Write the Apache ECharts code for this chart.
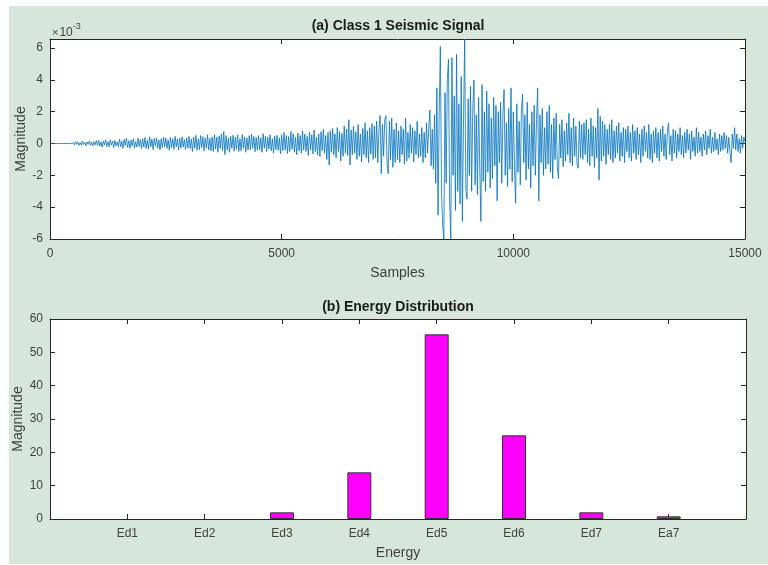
<!DOCTYPE html>
<html>
  <head>
    <meta charset="utf-8">
    <title>Seismic Signal</title>
    <script src="https://cdn.jsdelivr.net/npm/echarts@6/dist/echarts.min.js"></script>
    <style>
      html, body { margin: 0; padding: 0; background: #fff; }
      #chart { width: 768px; height: 565px; }
    </style>
  </head>
  <body>
    <div id="chart"></div>
  </body>
  <script>
    // (a) seismic signal, one value every 25 samples, in units of 1e-3
    var sampleStep = 25;
    var signal = [
      0,0,0,0,0,0,0,0,0,0,0,0,0,0,0,0,0,0,0,0,
      0.05,-0.08,0.12,-0.05,0.1,-0.12,0.06,-0.1,0.15,-0.06,0.08,-0.14,0.1,-0.05,0.16,-0.1,0.07,-0.15,0.12,-0.08,
      0.18,-0.12,0.2,-0.16,0.1,-0.22,0.15,-0.08,0.24,-0.18,0.12,-0.2,0.22,-0.1,0.16,-0.25,0.2,-0.14,0.1,-0.2,
      0.28,-0.2,0.15,-0.3,0.26,-0.12,0.32,-0.25,0.18,-0.3,0.22,-0.15,0.3,-0.28,0.12,-0.22,0.34,-0.18,0.25,-0.32,
      0.3,-0.22,0.38,-0.3,0.2,-0.35,0.42,-0.2,0.28,-0.38,0.32,-0.15,0.36,-0.3,0.22,-0.4,0.3,-0.26,0.4,-0.2,
      0.35,-0.3,0.22,-0.42,0.38,-0.25,0.3,-0.36,0.45,-0.2,0.28,-0.4,0.33,-0.3,0.42,-0.22,0.25,-0.38,0.36,-0.28,
      0.45,-0.32,0.28,-0.5,0.4,-0.3,0.52,-0.42,0.3,-0.38,0.5,-0.25,0.44,-0.48,0.35,-0.3,0.55,-0.4,0.32,-0.45,
      0.42,-0.5,0.55,-0.35,0.4,-0.55,0.48,-0.3,0.6,-0.45,0.75,-0.7,0.5,-0.4,0.35,-0.55,0.45,-0.3,0.52,-0.48,
      0.4,-0.35,0.55,-0.5,0.3,-0.45,0.58,-0.3,0.42,-0.55,0.35,-0.4,0.5,-0.38,0.6,-0.3,0.45,-0.52,0.38,-0.42,
      0.5,-0.4,0.35,-0.55,0.62,-0.3,0.45,-0.5,0.4,-0.35,0.55,-0.45,0.3,-0.6,0.48,-0.38,0.52,-0.42,0.36,-0.65,
      0.55,-0.45,0.7,-0.4,0.5,-0.62,0.45,-0.5,0.75,-0.35,0.6,-0.55,0.4,-0.7,0.65,-0.45,0.5,-0.6,0.8,-0.4,
      0.6,-0.5,0.45,-0.75,0.7,-0.4,0.55,-0.65,0.85,-0.5,0.4,-0.7,0.6,-0.8,0.75,-0.45,0.9,-0.6,0.5,-1.0,
      0.7,-1.35,0.8,-0.55,0.95,-0.7,0.6,-0.9,1.0,-0.5,0.75,-1.1,0.65,-0.8,1.1,-0.6,0.9,-0.75,1.5,-1.35,
      0.85,-0.7,1.1,-0.6,0.75,-1.0,1.2,-0.8,0.6,-1.15,0.95,-0.7,1.3,-0.9,0.8,-1.2,1.0,-0.65,1.25,-1.0,
      1.1,-0.9,1.4,-1.2,0.9,1.76,-1.9,1.2,-0.8,1.5,1.75,-1.3,-1.9,1.4,-1.0,1.6,-1.5,0.9,-1.2,1.3,
      -1.0,0.8,-1.2,1.1,-0.7,0.9,-1.3,1.6,-1.1,0.7,-0.9,1.2,-0.6,1.0,-1.15,0.8,-0.7,1.4,-0.9,0.6,
      -0.8,1.0,-1.2,0.7,-0.9,1.3,-0.6,1.0,2.1,-1.4,0.9,-1.6,1.8,-2.5,3.5,-4.5,2.0,6.1,-3.0,-5.2,
      -6.0,3.2,-2.5,4.0,5.3,-3.5,-6.0,5.4,-2.0,3.0,-4.2,5.6,-3.0,2.5,-3.8,4.2,-4.9,1.5,6.57,-2.8,
      -3.5,2.8,-2.0,3.6,-3.0,2.2,4.0,-2.6,1.8,-3.2,2.9,-1.5,-4.9,3.7,-2.4,2.0,-3.0,3.3,-1.8,2.5,
      -2.8,1.6,-2.2,2.9,-1.4,2.4,-3.6,2.0,-1.2,2.6,-2.5,1.8,3.4,-2.0,1.3,-2.7,2.2,-1.6,3.5,-2.4,
      2.0,-1.5,-3.75,2.5,-1.8,1.4,-2.6,2.2,3.1,-1.2,1.8,-2.3,2.6,-1.6,1.2,-2.8,2.0,-1.4,2.4,-2.0,
      1.5,3.5,-3.6,1.8,-1.2,2.2,-2.0,1.0,-1.6,2.0,-1.3,2.4,-1.8,1.2,-2.2,1.6,-1.0,1.9,-1.5,-2.2,
      1.2,-0.9,1.5,-1.45,0.8,-1.1,1.3,-0.7,1.9,-1.2,1.0,-1.4,1.6,-0.8,1.1,-1.3,-1.55,1.4,-0.9,1.2,
      -1.0,1.3,-0.7,1.5,-1.2,0.9,-1.4,1.6,-0.8,1.1,-1.5,1.0,-0.9,2.2,-2.3,1.7,-1.1,1.4,-0.8,1.2,
      -1.3,0.9,-0.7,1.2,-1.0,1.5,-1.2,0.8,-0.9,1.1,-0.6,1.3,-1.1,0.7,-0.8,1.0,-1.2,0.9,-0.5,1.1,
      -0.9,0.7,-1.1,1.2,-0.6,0.8,-1.0,1.0,-0.7,0.6,-1.2,0.9,-0.8,1.1,-0.5,0.7,-0.9,1.2,-1.0,0.6,
      -1.2,0.8,-0.6,1.0,-0.9,0.7,-1.1,0.9,-0.5,1.1,-0.8,0.6,-1.0,0.8,1.3,-0.7,0.5,-1.1,0.9,-0.6,
      0.8,-0.9,0.6,-0.5,1.0,-0.7,0.5,-0.9,0.7,-0.6,0.9,-0.4,0.6,-1.0,0.8,-0.5,0.4,-0.8,1.0,-0.6,
      0.7,-0.5,0.4,-0.8,0.6,-0.4,0.8,-0.7,0.5,-0.3,0.9,-0.6,0.4,-0.5,0.7,-0.4,0.3,-0.7,0.6,-0.5,
      0.5,-0.4,0.7,-0.3,0.5,-0.6,0.4,-0.5,-1.2,0.6,-0.3,1.0,-0.4,0.6,-0.5,0.3,-0.6,0.5,-0.3,0.4,
      0.1
    ];

    // (b) energy distribution
    var energyNames = ['Ed1', 'Ed2', 'Ed3', 'Ed4', 'Ed5', 'Ed6', 'Ed7', 'Ea7'];
    var energyValues = [0, 0, 2, 14, 55.4, 25.1, 2, 0.8];

    var axisColor = '#262626';
    var labelColor = '#404040';
    var font = 'Arial, Liberation Sans';

    var sigData = signal.map(function (v, i) { return [i * sampleStep, v]; });
    var barData = energyValues.map(function (v, i) {
      // empty bars draw nothing in the original
      return v > 0 ? [i + 1, v] : { value: [i + 1, v], itemStyle: { borderWidth: 0 } };
    });

    function plainNum(v) { return String(v); }

    function mainX(grid, min, max, interval, name, fmt) {
      return {
        type: 'value', gridIndex: grid, min: min, max: max, interval: interval,
        name: name, nameLocation: 'middle', nameGap: 27, nameMoveOverlap: false,
        nameTextStyle: { color: labelColor, fontSize: 14, fontFamily: font },
        axisLine: { show: true, onZero: false, lineStyle: { color: axisColor, width: 1 } },
        axisTick: { show: true, inside: true, length: 5, lineStyle: { color: axisColor } },
        axisLabel: { show: true, color: labelColor, fontSize: 12, margin: 9,
                     fontFamily: font, formatter: fmt },
        splitLine: { show: false }
      };
    }
    function mainY(grid, min, max, interval, nameGap, showMax) {
      return {
        type: 'value', gridIndex: grid, min: min, max: max, interval: interval,
        name: 'Magnitude', nameLocation: 'middle', nameGap: nameGap, nameMoveOverlap: false,
        nameTextStyle: { color: labelColor, fontSize: 14, fontFamily: font },
        axisLine: { show: true, onZero: false, lineStyle: { color: axisColor, width: 1 } },
        axisTick: { show: true, inside: true, length: 5, lineStyle: { color: axisColor } },
        axisLabel: { show: true, color: labelColor, fontSize: 12, margin: 7, showMaxLabel: showMax,
                     fontFamily: font, formatter: plainNum },
        splitLine: { show: false }
      };
    }
    function boxAxis(grid, min, max, interval, pos) {
      return {
        type: 'value', gridIndex: grid, min: min, max: max, interval: interval, position: pos,
        axisLine: { show: true, onZero: false, lineStyle: { color: axisColor, width: 1 } },
        axisTick: { show: true, inside: true, length: 5, lineStyle: { color: axisColor } },
        axisLabel: { show: false },
        splitLine: { show: false }
      };
    }

    var chart = echarts.init(document.getElementById('chart'), null, { renderer: 'canvas' });
    var option = {
      animation: false,
      backgroundColor: '#ffffff',
      graphic: [
        { type: 'rect', z: -10, silent: true,
          shape: { x: 9, y: 6, width: 759, height: 558 },
          style: { fill: '#d6e6da' } },
        { type: 'text', x: 398, y: 26, z: 10,
          style: { text: '(a) Class 1 Seismic Signal', fill: '#1a1a1a', fontSize: 14,
                   fontWeight: 'bold', fontFamily: font,
                   textAlign: 'center', textVerticalAlign: 'middle' } },
        { type: 'text', x: 398, y: 307, z: 10,
          style: { text: '(b) Energy Distribution', fill: '#1a1a1a', fontSize: 14,
                   fontWeight: 'bold', fontFamily: font,
                   textAlign: 'center', textVerticalAlign: 'middle' } },
        { type: 'text', x: 52, y: 22, z: 10,
          style: { text: '{a|×}{b|10}{c|-3}', fontFamily: font,
                   rich: {
                     a: { fontSize: 11, fill: labelColor, padding: [5, 1, 0, 0] },
                     b: { fontSize: 12, fill: labelColor, padding: [5, 0, 0, 0] },
                     c: { fontSize: 9, fill: labelColor, verticalAlign: 'top', padding: [0, 0, 6, 0] }
                   } } }
      ],
      grid: [
        { left: 50, top: 39, right: 23, height: 200, show: true, backgroundColor: '#ffffff',
          borderWidth: 0, outerBoundsMode: 'none', containLabel: false },
        { left: 50, top: 319, right: 22, height: 200, show: true, backgroundColor: '#ffffff',
          borderWidth: 0, outerBoundsMode: 'none', containLabel: false }
      ],
      xAxis: [
        mainX(0, 0, 15000, 5000, 'Samples', plainNum),
        boxAxis(0, 0, 15000, 5000, 'top'),
        mainX(1, 0, 9, 1, 'Energy', function (v) {
          var k = Math.round(v);
          return (k >= 1 && k <= energyNames.length) ? energyNames[k - 1] : '';
        }),
        boxAxis(1, 0, 9, 1, 'top')
      ],
      yAxis: [
        mainY(0, -6, 6.57, 2, 22, false),
        boxAxis(0, -6, 6.57, 2, 'right'),
        mainY(1, 0, 60, 10, 25, true),
        boxAxis(1, 0, 60, 10, 'right')
      ],
      series: [
        {
          type: 'line', xAxisIndex: 0, yAxisIndex: 0, data: sigData,
          showSymbol: false, sampling: null, clip: true,
          lineStyle: { color: '#0072bd', width: 0.8 }
        },
        {
          type: 'bar', xAxisIndex: 2, yAxisIndex: 2, data: barData,
          barWidth: 24,
          itemStyle: { color: '#ff00ff', borderColor: '#333333', borderWidth: 1 }
        }
      ]
    };
    chart.setOption(option);
  </script>
</html>
